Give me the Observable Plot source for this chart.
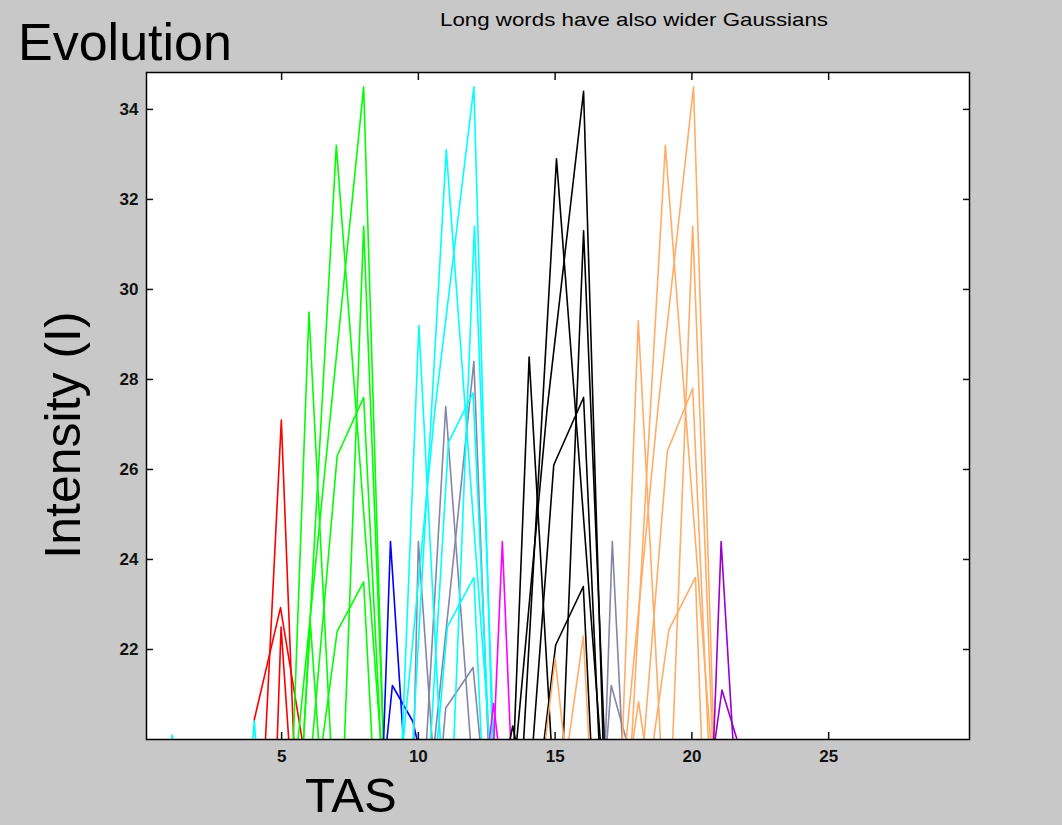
<!DOCTYPE html>
<html>
<head>
<meta charset="utf-8">
<script src="https://cdn.jsdelivr.net/npm/d3@7"></script>
<script src="https://cdn.jsdelivr.net/npm/@observablehq/plot@0.6"></script>
<style>
  html, body { margin: 0; padding: 0; background: #c8c8c8; }
  #chart { width: 1062px; height: 825px; }
</style>
</head>
<body>
<div id="chart"></div>
<script>
// ---- tick labels ----
const xTicks = [5, 10, 15, 20, 25];
const yTicks = [22, 24, 26, 28, 30, 32, 34];

// ---- texts ----
const mainTitle = "Long words have also wider Gaussians";
const cornerTitle = "Evolution";
const xLabel = "TAS";
const yLabel = "Intensity (I)";

// ---- series colours (by group) ----
const groupColors = {
  red: "#ff0000", green: "#00ff00", blue: "#0000ff", cyan: "#00ffff",
  slate: "#8585a8", magenta: "#ff00ff", black: "#000000",
  orange: "#ffad66", purple: "#9a00d0"
};

// ---- curves: group, x values, y values ----
const curveGroup = [
  "cyan", "cyan",
  "red", "red", "red",
  "green", "green", "green", "green", "green", "green", "green",
  "blue", "blue",
  "slate", "slate", "slate", "slate",
  "cyan", "cyan", "cyan", "cyan", "cyan", "cyan",
  "magenta", "magenta", "black",
  "black", "black", "black", "black", "black", "black",
  "orange", "orange",
  "slate", "slate",
  "orange", "orange", "orange", "orange", "orange", "orange", "orange",
  "purple", "purple"
];
const curveX = [
  [0.98, 1.0, 1.02], [3.95, 4.0, 4.05],
  [4.41, 4.99, 5.44], [4.0, 4.96, 5.75], [4.84, 4.98, 5.26],
  [5.43, 6.0, 6.79], [5.80, 7.0, 8.62], [5.6, 6.8, 8.0, 8.72], [7.3, 8.0, 8.72],
  [6.13, 7.03, 8.0, 8.62], [6.5, 7.03, 8.0, 8.3], [5.8, 6.05, 6.35],
  [8.73, 8.98, 9.45], [8.85, 9.05, 9.8, 9.95],
  [9.84, 10.0, 10.5], [10.3, 11.0, 11.9], [10.6, 12.03, 12.55], [10.9, 11.0, 12.0, 12.25],
  [9.41, 10.02, 10.8], [9.8, 11.02, 12.6], [9.45, 10.6, 12.03, 12.7], [11.3, 12.05, 12.75],
  [10.45, 11.1, 12.0, 12.58], [10.7, 11.06, 12.03, 12.3],
  [12.76, 13.07, 13.37], [12.6, 12.75, 12.9], [13.35, 13.45, 13.55],
  [13.5, 14.05, 14.85], [13.85, 15.05, 16.65], [13.6, 14.7, 16.04, 16.75], [15.3, 16.04, 16.8],
  [14.2, 14.95, 16.04, 16.6], [14.6, 15.02, 16.03, 16.3],
  [14.65, 15.0, 15.32], [15.5, 16.03, 16.23],
  [16.84, 17.09, 17.45], [16.9, 17.05, 17.6],
  [17.46, 18.04, 18.85], [17.8, 19.03, 20.68], [17.6, 18.75, 20.06, 20.8], [19.3, 20.03, 20.75],
  [18.25, 19.1, 20.03, 20.6], [18.6, 19.16, 20.13, 20.35], [17.85, 18.05, 18.25],
  [20.8, 21.07, 21.5], [20.85, 21.1, 21.65]
];
const curveY = [
  [20, 20.1, 20], [20, 20.44, 20],
  [20, 27.1, 20], [20.44, 22.93, 20], [20, 22.5, 20],
  [20, 29.5, 20], [20, 33.2, 20], [20, 27.3, 34.5, 20], [20, 31.4, 20],
  [20, 26.3, 27.6, 20], [20, 22.4, 23.5, 20], [20, 22.6, 20],
  [20, 24.4, 20], [20, 21.2, 20.4, 20],
  [20, 24.4, 20], [20, 27.4, 20], [20, 28.4, 20], [20, 20.7, 21.6, 20],
  [20, 29.2, 20], [20, 33.1, 20], [20, 27.3, 34.5, 20], [20, 31.4, 20],
  [20, 26.6, 27.7, 20], [20, 22.5, 23.6, 20],
  [20, 24.4, 20], [20, 20.8, 20], [20, 20.3, 20],
  [20, 28.5, 20], [20, 32.9, 20], [20, 27.3, 34.4, 20], [20, 31.3, 20],
  [20, 26.1, 27.6, 20], [20, 22.1, 23.4, 20],
  [20, 21.8, 20], [20, 22.3, 20],
  [20, 24.4, 20], [20, 21.2, 20],
  [20, 29.3, 20], [20, 33.2, 20], [20, 27.3, 34.5, 20], [20, 31.4, 20],
  [20, 26.4, 27.8, 20], [20, 22.44, 23.6, 20], [20, 20.84, 20],
  [20, 24.4, 20], [20, 21.1, 20]
];

// build long table for the line mark
const rows = [];
curveX.forEach((xs, i) => {
  xs.forEach((x, j) => rows.push({id: i, x, y: curveY[i][j], color: groupColors[curveGroup[i]]}));
});

const fontFamily = "'Liberation Sans', Arial, sans-serif";

const chart = Plot.plot({
  width: 1062,
  height: 825,
  marginLeft: 146,
  marginRight: 93,
  marginTop: 72,
  marginBottom: 86,
  style: {background: "#c8c8c8", fontFamily, fontSize: "17px", color: "#111", overflow: "visible"},
  x: {domain: [0.06, 30.15]},
  y: {domain: [20, 34.82]},
  color: {type: "identity"},
  marks: [
    Plot.frame({fill: "white", stroke: "none"}),
    Plot.line(rows, {x: "x", y: "y", z: "id", stroke: "color", strokeWidth: 1.6, clip: true, curve: "linear"}),
    Plot.frame({stroke: "black", strokeWidth: 1.5}),
    Plot.axisX(xTicks, {anchor: "bottom", tickSize: -7, tickFormat: () => "", label: null, strokeWidth: 1.5}),
    Plot.axisX(xTicks, {anchor: "top", tickSize: -7, tickFormat: () => "", label: null, strokeWidth: 1.5}),
    Plot.axisY(yTicks, {anchor: "left", tickSize: -7, tickFormat: () => "", label: null, strokeWidth: 1.5}),
    Plot.axisY(yTicks, {anchor: "right", tickSize: -7, tickFormat: () => "", label: null, strokeWidth: 1.5}),
    Plot.axisX(xTicks, {anchor: "bottom", tickSize: 0, tickPadding: 10, label: null, fontSize: 17, fontWeight: "bold"}),
    Plot.axisY(yTicks, {anchor: "left", tickSize: 0, tickPadding: 8, label: null, fontSize: 17, fontWeight: "bold"})
  ]
});

document.getElementById("chart").appendChild(chart);

const svg = d3.select(chart);
svg.append("text")
  .attr("x", 18).attr("y", 60).attr("text-anchor", "start")
  .attr("font-family", fontFamily).attr("font-size", 52).attr("fill", "#000")
  .text(cornerTitle);
svg.append("text")
  .attr("x", 440).attr("y", 26).attr("text-anchor", "start")
  .attr("font-family", fontFamily).attr("font-size", 19).attr("fill", "#000")
  .attr("textLength", 388).attr("lengthAdjust", "spacingAndGlyphs")
  .text(mainTitle);
svg.append("text")
  .attr("x", 305).attr("y", 812).attr("text-anchor", "start")
  .attr("font-family", fontFamily).attr("font-size", 49).attr("fill", "#000")
  .text(xLabel);
svg.append("text")
  .attr("transform", "translate(80,435) rotate(-90)")
  .attr("text-anchor", "middle")
  .attr("font-family", fontFamily).attr("font-size", 50).attr("fill", "#000")
  .text(yLabel);
</script>
</body>
</html>
